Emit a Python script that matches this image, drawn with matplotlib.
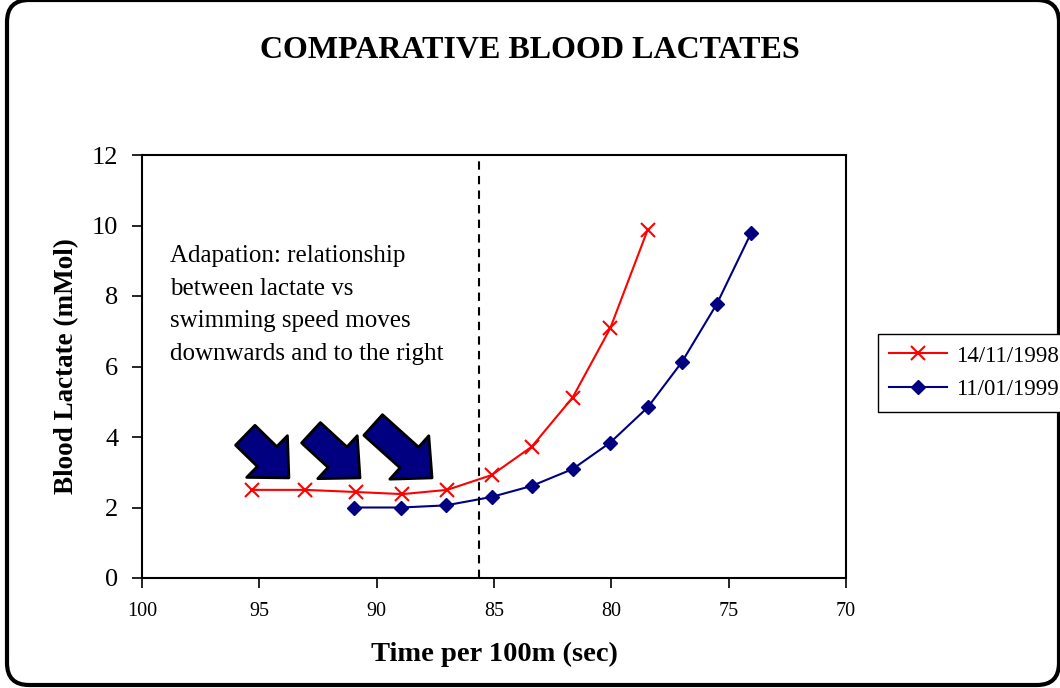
import matplotlib.pyplot as plt
from matplotlib.patches import FancyBboxPatch, FancyArrowPatch

# data
time_1998 = [95.3, 93.05, 90.9, 88.9, 87.0, 85.1, 83.4, 81.65, 80.05, 78.45]
lact_1998 = [2.5, 2.5, 2.44, 2.38, 2.5, 2.92, 3.72, 5.12, 7.08, 9.88]
time_1999 = [90.95, 88.95, 87.05, 85.1, 83.4, 81.65, 80.05, 78.45, 77.0, 75.5, 74.05]
lact_1999 = [2.0, 2.0, 2.06, 2.3, 2.61, 3.09, 3.84, 4.84, 6.12, 7.78, 9.78]
threshold = 85.65

x_ticks = [100, 95, 90, 85, 80, 75, 70]
y_ticks = [0, 2, 4, 6, 8, 10, 12]

# arrows (tail, tip) in data units
arrows = [((95.6, 4.05), (93.74, 2.84)),
          ((92.8, 4.12), (90.71, 2.84)),
          ((90.15, 4.34), (87.64, 2.84))]

plt.rcParams['font.family'] = ['Liberation Serif', 'DejaVu Serif']

fig = plt.figure(figsize=(10.6, 6.88), dpi=100)
ax = fig.add_axes([142 / 1060, 110 / 688, 704 / 1060, 423 / 688])

ax.plot(time_1998, lact_1998, color='#ff0000', marker='x', markersize=10,
        markeredgewidth=1.5, linewidth=1.5, label='14/11/1998')
ax.plot(time_1999, lact_1999, color='#000080', marker='D', markersize=7,
        linewidth=1.5, label='11/01/1999')
ax.axvline(threshold, color='black', linestyle=(0, (4, 3)), linewidth=1.5)

ax.set_xlim(100, 70)
ax.set_ylim(0, 12)
ax.set_xticks(x_ticks)
ax.set_yticks(y_ticks)
ax.tick_params(axis='x', direction='out', length=7, width=1.2, labelsize=14.5, pad=10)
ax.tick_params(axis='y', direction='out', length=7, width=1.2, labelsize=19, pad=10)
for sp in ax.spines.values():
    sp.set_linewidth(1.5)

ax.set_xlabel('Time per 100m (sec)', fontsize=20.5, fontweight='bold', labelpad=15)
ax.set_ylabel('Blood Lactate (mMol)', fontsize=19.5, fontweight='bold', labelpad=9)

ax.text(0.04, 0.787, 'Adapation: relationship\nbetween lactate vs\nswimming speed moves\ndownwards and to the right',
        transform=ax.transAxes, fontsize=18, va='top', ha='left', linespacing=1.62)

for tail, tip in arrows:
    arr = FancyArrowPatch(tail, tip, arrowstyle='simple,head_length=1.1,head_width=2.1,tail_width=1.0',
                          mutation_scale=20, facecolor='#000080', edgecolor='black',
                          linewidth=2, shrinkA=0, shrinkB=0, zorder=4)
    ax.add_patch(arr)

fig.suptitle('COMPARATIVE BLOOD LACTATES', fontsize=23, fontweight='bold', y=0.927, va='center')

fig.legend(loc='upper left', bbox_to_anchor=(878 / 1060, 1 - 334 / 688), fontsize=16.5,
           fancybox=False, edgecolor='black', framealpha=1, handlelength=2.5,
           handletextpad=0.4, borderpad=0.5, labelspacing=0.55, borderaxespad=0)

frame = FancyBboxPatch((29, 25), 1008, 641, boxstyle='round,pad=22',
                       transform=None, facecolor='none', edgecolor='black', linewidth=3)
fig.add_artist(frame)

fig.savefig('out.png', dpi=100)
